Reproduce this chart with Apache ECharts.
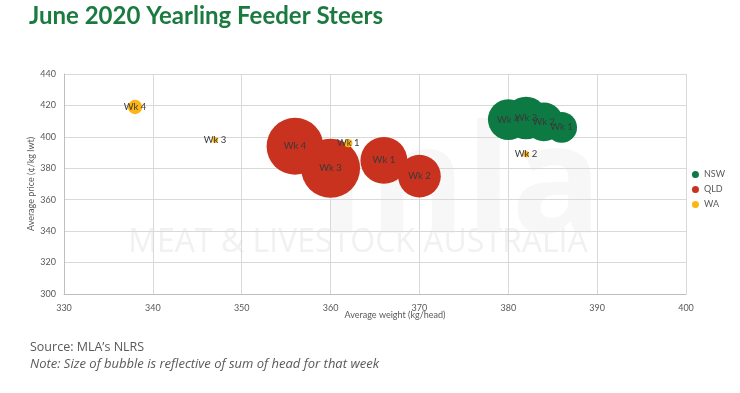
<!DOCTYPE html>
<html>
<head>
<meta charset="utf-8">
<script src="https://cdn.jsdelivr.net/npm/echarts@6/dist/echarts.min.js"></script>
<style>
html,body{margin:0;padding:0;background:#fff;}
#chart{width:740px;height:393px;}
</style>
</head>
<body>
<div id="chart"></div>
<script>
// Data: [average weight kg/head, average price c/kg lwt, head count, week label]
const seriesNames = ['NSW', 'QLD', 'WA'];
const nswWeeks = ['Wk 1', 'Wk 2', 'Wk 3', 'Wk 4'];
const nswWeight = [386, 384, 382, 380];
const nswPrice = [406, 409.5, 412, 411];
const nswHead = [2300, 3600, 4400, 4000];

const qldWeeks = ['Wk 1', 'Wk 2', 'Wk 3', 'Wk 4'];
const qldWeight = [366, 370, 360, 356];
const qldPrice = [385, 375, 380, 394];
const qldHead = [5300, 4400, 8400, 7800];

const waWeeks = ['Wk 1', 'Wk 2', 'Wk 3', 'Wk 4'];
const waWeight = [362, 382, 347, 338];
const waPrice = [396, 389, 398, 419];
const waHead = [160, 90, 80, 500];

const xTicks = [330, 340, 350, 360, 370, 380, 390, 400];
const yTicks = [300, 320, 340, 360, 380, 400, 420, 440];

const colors = ['#0d7a44', '#c9321f', '#fdb515'];
const maxHead = Math.max(...nswHead, ...qldHead, ...waHead);
const maxDiameter = 59;

function build(weeks, w, p, h) {
  return weeks.map((wk, i) => ({ name: wk, value: [w[i], p[i], h[i]] }));
}
const allData = [
  build(nswWeeks, nswWeight, nswPrice, nswHead),
  build(qldWeeks, qldWeight, qldPrice, qldHead),
  build(waWeeks, waWeight, waPrice, waHead)
];

const font = 'Lato, "Open Sans", sans-serif';
const chart = echarts.init(document.getElementById('chart'), null, { renderer: 'canvas' });

chart.setOption({
  backgroundColor: '#ffffff',
  animation: false,
  textStyle: { fontFamily: font },
  grid: { left: 64, right: 54, top: 74, bottom: 99, containLabel: false },
  xAxis: {
    type: 'value', min: xTicks[0], max: xTicks[xTicks.length - 1], interval: 10,
    axisLine: { show: true, lineStyle: { color: '#bfbfbf', width: 1 } },
    axisTick: { show: false },
    axisLabel: { color: '#595959', fontSize: 9, margin: 10, fontFamily: font },
    splitLine: { show: true, lineStyle: { color: '#d9d9d9', width: 1 } }
  },
  yAxis: {
    type: 'value', min: yTicks[0], max: yTicks[yTicks.length - 1], interval: 20,
    axisLine: { show: true, lineStyle: { color: '#bfbfbf', width: 1 } },
    axisTick: { show: false },
    axisLabel: { color: '#595959', fontSize: 9, margin: 8, fontFamily: font },
    splitLine: { show: true, lineStyle: { color: '#d9d9d9', width: 1 } }
  },
  legend: {
    orient: 'vertical', right: 10, top: 165, itemGap: 6,
    icon: 'circle', itemWidth: 7, itemHeight: 7,
    textStyle: { color: '#595959', fontSize: 9, fontFamily: font },
    data: seriesNames
  },
  graphic: [
    { type: 'text', left: 29, top: 4, z: 10,
      style: { text: 'June 2020 Yearling Feeder Steers', fill: '#1b7a3f', font: 'bold 24px ' + font } },
    { type: 'text', left: 30, top: 341,
      style: { text: 'Source: MLA\u2019s NLRS', fill: '#595959', font: '12.5px "Open Sans", sans-serif' } },
    { type: 'text', left: 30, top: 358,
      style: { text: 'Note: Size of bubble is reflective of sum of head for that week', fill: '#595959', font: 'italic 13px "Open Sans", sans-serif' } },
    { type: 'text', x: 395, y: 315, z: 10,
      style: { text: 'Average weight (kg/head)', fill: '#595959', font: '9px ' + font, textAlign: 'center', textVerticalAlign: 'middle' } },
    { type: 'text', x: 31, y: 184, rotation: Math.PI / 2, z: 10,
      style: { text: 'Average price (\u00a2/kg lwt)', fill: '#595959', font: '9px ' + font, textAlign: 'center', textVerticalAlign: 'middle' } },
    { type: 'text', x: 358, y: 243, z: -10, silent: true,
      style: { text: 'MEAT & LIVESTOCK AUSTRALIA', fill: '#f1f1f1', font: '32px "Open Sans", sans-serif', textAlign: 'center', textVerticalAlign: 'middle' } },
    { type: 'text', x: 460, y: 190, z: -10, silent: true,
      style: { text: 'mla', fill: '#f7f7f7', font: 'bold 150px "Open Sans", sans-serif', textAlign: 'center', textVerticalAlign: 'middle' } }
  ],
  series: seriesNames.map((nm, i) => ({
    name: nm,
    type: 'scatter',
    data: allData[i],
    itemStyle: { color: colors[i], opacity: 1 },
    symbolSize: v => Math.max(4, Math.sqrt(v[2] / maxHead) * maxDiameter),
    label: {
      show: true, position: 'inside', formatter: p => p.name,
      color: '#3a3a3a', fontSize: 9.5, fontFamily: font
    },
    emphasis: { disabled: true }
  }))
});
</script>
</body>
</html>
